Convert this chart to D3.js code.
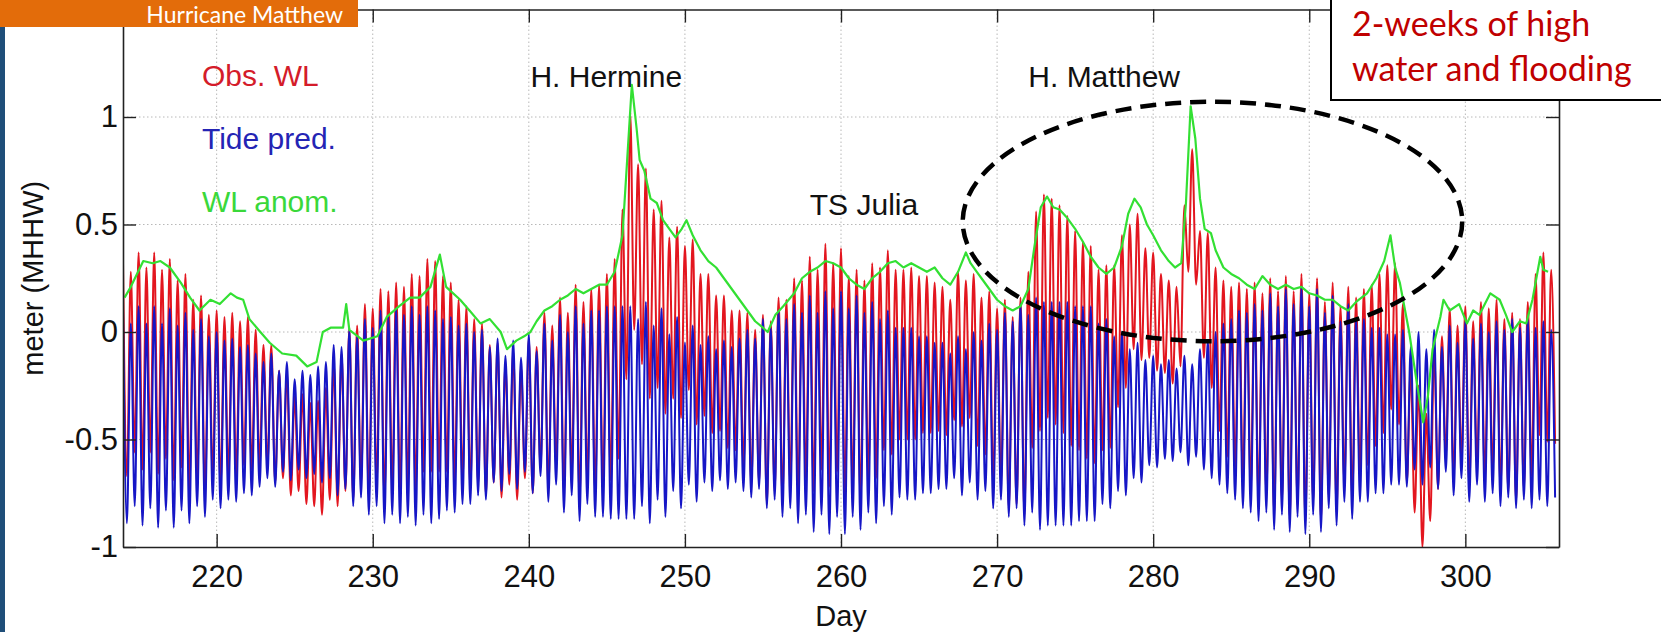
<!DOCTYPE html>
<html>
<head>
<meta charset="utf-8">
<script src="https://cdn.jsdelivr.net/npm/d3@7"></script>
<style>
html, body { margin: 0; padding: 0; background: #fff; }
svg { display: block; }
</style>
</head>
<body>
<div id="chart"></div>
<script>
// water level series, one value every 6 hours from day 214 (meter, MHHW)
const startDay = 214;
const stepDay = 0.25;

// tide prediction (blue), one row per day
const tidePred = [
  .12,-.89,.04,-.81,  .12,-.90,.04,-.82,  .12,-.91,.04,-.83,  .11,-.91,.03,-.83,   // 214-217
  .09,-.89,.01,-.81,  .06,-.86,-.02,-.78, 0,-.82,-.04,-.78,   -.03,-.79,-.07,-.75, // 218-221
  -.06,-.76,-.10,-.72, -.14,-.68,-.10,-.72, -.18,-.65,-.14,-.69, -.22,-.64,-.18,-.68, // 222-225
  -.20,-.66,-.16,-.70, -.14,-.68,-.06,-.76, -.07,-.73,.01,-.81, -.02,-.77,.06,-.85, // 226-229
  .02,-.81,.10,-.89,  .07,-.85,.11,-.89,  .08,-.86,.12,-.90,  .08,-.85,.12,-.89,   // 230-233
  .10,-.87,.06,-.83,  .07,-.84,.03,-.80,  .04,-.80,0,-.76,    .01,-.78,-.07,-.70,  // 234-237
  -.03,-.74,-.11,-.66, -.04,-.73,-.12,-.65, -.01,-.75,-.09,-.67, .04,-.79,-.04,-.71, // 238-241
  .08,-.84,0,-.76,    .12,-.88,.04,-.80,  .10,-.86,.10,-.86,  .12,-.87,.12,-.87,   // 242-245
  .12,-.87,.12,-.87,  .06,-.81,.14,-.89,  .03,-.78,.11,-.86,  -.01,-.74,.07,-.82,  // 246-249
  -.05,-.71,.03,-.79, -.06,-.70,-.02,-.74, -.08,-.69,-.04,-.73, -.07,-.70,-.03,-.74, // 250-253
  .01,-.77,-.03,-.73, .06,-.82,.02,-.78,  .10,-.86,.06,-.82,  .13,-.89,.09,-.85,   // 254-257
  .17,-.93,.09,-.85,  .19,-.94,.11,-.86,  .19,-.94,.11,-.86,  .17,-.92,.09,-.84,   // 258-261
  .14,-.89,.06,-.81,  .10,-.85,.02,-.77,  .02,-.78,.02,-.78,  -.02,-.75,-.02,-.75, // 262-265
  -.05,-.73,-.05,-.73, -.10,-.68,-.02,-.76, -.08,-.70,0,-.78, -.04,-.74,.04,-.82,  // 266-269
  .01,-.78,.09,-.86,  .05,-.82,.13,-.90,  .08,-.84,.16,-.92,  .14,-.90,.14,-.90,   // 270-273
  .14,-.90,.14,-.90,  .12,-.88,.12,-.88,  .12,-.88,.04,-.80,  .06,-.82,-.02,-.74,  // 274-277
  0,-.76,-.08,-.68,   -.05,-.70,-.13,-.62, -.11,-.63,-.15,-.59, -.13,-.60,-.17,-.56, // 278-281
  -.11,-.62,-.15,-.58, -.08,-.64,-.04,-.68, 0,-.71,.04,-.75,  .06,-.78,.10,-.82,   // 282-285
  .09,-.84,.13,-.88,  .10,-.84,.18,-.92,  .12,-.85,.20,-.93,  .13,-.86,.21,-.94,   // 286-289
  .12,-.85,.20,-.93,  .09,-.82,.17,-.90,  .05,-.79,.13,-.87,  .06,-.79,.06,-.79,   // 290-293
  .02,-.75,.02,-.75,  -.01,-.71,-.01,-.71, .01,-.72,-.07,-.64, 0,-.71,-.08,-.63,   // 294-297
  .01,-.73,-.07,-.65, .03,-.76,-.05,-.68, .05,-.79,-.03,-.71, .04,-.79,0,-.75,     // 298-301
  .05,-.81,.01,-.77,  .06,-.82,.02,-.78,  .06,-.82,.02,-.78,  .05,-.81,.01,-.77    // 302-305
];

// observed water level (red), same times
const obsWL = [
  .32,-.67,.28,-.56,  .37,-.64,.30,-.56,  .37,-.66,.29,-.59,  .34,-.69,.24,-.63,   // 214-217
  .27,-.73,.15,-.69,  .17,-.76,.08,-.68,  .10,-.72,.07,-.67,  .09,-.67,.05,-.62,   // 218-221
  .07,-.64,.01,-.62,  -.06,-.62,-.06,-.70, -.18,-.68,-.19,-.76, -.30,-.74,-.29,-.80, // 222-225
  -.33,-.81,-.32,-.85, -.26,-.78,-.14,-.81, -.10,-.74,.02,-.78, .03,-.71,.13,-.77, // 226-229
  .11,-.71,.20,-.78,  .19,-.73,.23,-.76,  .21,-.72,.27,-.74,  .26,-.65,.34,-.65,   // 230-233
  .33,-.65,.26,-.65,  .23,-.70,.15,-.70,  .12,-.73,.06,-.71,  .04,-.76,-.06,-.70,  // 234-237
  -.05,-.77,-.15,-.71, -.09,-.78,-.16,-.68, -.03,-.75,-.07,-.63, .09,-.73,.03,-.63, // 238-241
  .16,-.75,.09,-.66,  .22,-.78,.14,-.69,  .20,-.75,.22,-.73,  .27,-.69,.34,-.59,   // 242-245
  .57,-.22,1.02,.01,  .78,-.15,.76,-.31,  .57,-.26,.61,-.38,  .44,-.31,.49,-.40,   // 246-249
  .40,-.27,.43,-.43,  .27,-.39,.27,-.47,  .17,-.46,.17,-.54,  .10,-.55,.10,-.63,   // 250-253
  .09,-.71,.01,-.70,  .08,-.80,.05,-.74,  .16,-.78,.15,-.71,  .25,-.75,.24,-.68,   // 254-257
  .35,-.74,.29,-.64,  .41,-.72,.32,-.65,  .39,-.76,.26,-.73,  .29,-.79,.24,-.68,   // 258-261
  .32,-.68,.30,-.55,  .38,-.57,.29,-.50,  .29,-.50,.30,-.50,  .26,-.47,.26,-.47,   // 262-265
  .23,-.46,.21,-.48,  .15,-.41,.28,-.44,  .24,-.40,.27,-.53,  .16,-.57,.19,-.70,   // 266-269
  .11,-.70,.15,-.82,  .07,-.80,.16,-.85,  .28,-.54,.56,-.46,  .64,-.40,.62,-.43,   // 270-273
  .59,-.47,.54,-.53,  .47,-.55,.42,-.59,  .40,-.61,.29,-.55,  .31,-.54,.31,-.35,   // 274-277
  .45,-.26,.50,-.08,  .55,-.13,.39,-.12,  .37,-.18,.27,-.19,  .24,-.24,.21,-.16,   // 278-281
  .59,.28,.85,.22,    .47,-.12,.46,-.26,  .30,-.46,.24,-.58,  .21,-.64,.23,-.70,   // 282-285
  .20,-.74,.23,-.79,  .18,-.76,.25,-.85,  .19,-.79,.26,-.87,  .19,-.80,.27,-.88,   // 286-289
  .18,-.79,.25,-.88,  .14,-.77,.23,-.84,  .12,-.71,.21,-.78,  .16,-.67,.20,-.62,   // 290-293
  .22,-.53,.27,-.47,  .31,-.36,.32,-.43,  .13,-.70,-.17,-.84, -.25,-1.0,-.38,-.88, // 294-297
  -.09,-.73,-.02,-.58, .11,-.68,.03,-.60, .12,-.72,.05,-.62,  .14,-.69,.11,-.65,   // 298-301
  .15,-.73,.06,-.74,  .09,-.79,.06,-.73,  .14,-.67,.27,-.48,  .37,-.51,.29,-.52    // 302-305
];

// water level anomaly (green)
const anomDay = [
  214.1,214.5,215.3,215.9,216.4,217.0,217.7,218.3,218.9,219.6,220.2,220.9,221.3,221.7,222.1,222.8,
  223.4,224.2,225.1,225.8,226.4,226.8,227.3,228.1,228.3,228.5,229.4,230.3,230.9,231.7,232.4,233.0,
  233.7,234.3,234.7,235.6,236.2,236.9,237.5,238.2,238.6,239.2,239.7,240.1,240.5,241.0,241.5,242.0,
  242.5,243.0,243.5,244.0,244.5,245.0,245.5,246.0,246.3,246.6,246.9,247.1,247.4,247.8,248.2,248.6,
  249.0,249.4,249.8,250.1,250.5,251.0,251.5,252.0,252.5,253.0,253.5,254.0,254.5,255.0,255.3,255.8,
  256.3,257.0,257.5,258.0,258.5,259.0,259.5,260.0,260.5,261.0,261.5,262.0,262.5,263.0,263.5,264.0,
  264.5,265.0,265.5,266.0,266.5,267.0,267.5,268.0,268.3,268.7,269.0,269.5,270.0,270.5,271.0,271.5,
  272.0,272.4,272.8,273.2,273.6,274.0,274.5,275.0,275.5,276.0,276.5,277.0,277.5,278.0,278.4,278.8,
  279.2,279.6,280.0,280.5,281.0,281.4,281.8,282.1,282.4,282.7,283.0,283.3,283.7,284.0,284.5,285.0,
  285.5,286.0,286.5,287.0,287.5,288.0,288.5,289.0,289.5,290.0,290.5,291.0,291.5,292.0,292.5,293.0,
  293.7,294.3,294.8,295.2,295.5,295.8,296.4,296.9,297.3,297.6,297.9,298.4,298.6,299.0,299.6,300.1,
  300.5,300.9,301.6,302.2,302.6,303.0,303.5,303.9,304.3,304.8,305.0,305.3
];
const anomVal = [
  .16,.21,.33,.32,.33,.30,.23,.16,.10,.15,.13,.18,.16,.15,.06,.00,
  -.05,-.10,-.11,-.16,-.14,.00,.02,.02,.13,.01,-.04,-.02,.07,.12,.16,.16,
  .21,.36,.21,.15,.10,.04,.06,.00,-.08,-.04,-.02,.00,.05,.10,.12,.15,
  .17,.20,.18,.20,.22,.22,.28,.45,.80,1.15,.95,.80,.75,.62,.60,.52,
  .48,.44,.48,.52,.45,.38,.33,.30,.25,.20,.15,.10,.05,.02,.00,.08,
  .12,.18,.25,.28,.30,.33,.32,.30,.25,.22,.20,.25,.28,.32,.33,.30,
  .32,.30,.28,.30,.25,.22,.28,.37,.32,.28,.25,.20,.15,.12,.10,.12,
  .20,.40,.58,.63,.58,.57,.53,.48,.42,.35,.30,.27,.30,.40,.55,.62,
  .58,.50,.45,.38,.33,.30,.32,.60,1.05,.90,.62,.48,.46,.38,.30,.27,
  .25,.22,.20,.26,.22,.20,.22,.20,.21,.18,.17,.15,.15,.12,.10,.14,
  .18,.25,.33,.45,.30,.23,.00,-.24,-.42,-.30,-.08,.07,.15,.10,.13,.04,
  .10,.08,.18,.15,.08,.00,.05,.04,.15,.35,.29,.28
];

const xTicks = [220, 230, 240, 250, 260, 270, 280, 290, 300];
const yTicks = [-1, -0.5, 0, 0.5, 1];
const seriesNames = ["Obs. WL", "Tide pred.", "WL anom."];
const stormNames = ["H. Hermine", "TS Julia", "H. Matthew"];
const slideTitle = "Hurricane Matthew";
const noteLines = ["2-weeks of high", "water and flooding"];

const W = 1661, H = 632;
const red = "#e3161f", blue = "#1616c6", green = "#33e033";

const svg = d3.select("#chart").append("svg")
    .attr("width", W)
    .attr("height", H);

const x = d3.scaleLinear().domain([214, 306]).range([123, 1559]);
const y = d3.scaleLinear().domain([-1, 1.5]).range([547, 9.5]);

svg.append("defs").append("clipPath").attr("id", "plotclip")
  .append("rect")
    .attr("x", x(214)).attr("y", y(1.5))
    .attr("width", x(306) - x(214)).attr("height", y(-1) - y(1.5));

// dotted grid
const grid = svg.append("g");
grid.selectAll("line.gx")
  .data(xTicks)
  .enter().append("line")
    .attr("x1", d => x(d)).attr("x2", d => x(d))
    .attr("y1", y(1.5)).attr("y2", y(-1))
    .attr("stroke", "#b8b8b8").attr("stroke-dasharray", "1.5,2.5");
grid.selectAll("line.gy")
  .data(yTicks.filter(d => d > -1))
  .enter().append("line")
    .attr("x1", x(214)).attr("x2", x(306))
    .attr("y1", d => y(d)).attr("y2", d => y(d))
    .attr("stroke", "#b8b8b8").attr("stroke-dasharray", "1.5,2.5");

// series
const tideLine = d3.line()
    .x((d, i) => x(startDay + i * stepDay))
    .y(d => y(d))
    .curve(d3.curveMonotoneX);

const plot = svg.append("g").attr("clip-path", "url(#plotclip)");
plot.append("path").datum(obsWL)
    .attr("d", tideLine)
    .attr("fill", "none").attr("stroke", red).attr("stroke-width", 2);
plot.append("path").datum(tidePred)
    .attr("d", tideLine)
    .attr("fill", "none").attr("stroke", blue).attr("stroke-width", 2);

const anomLine = d3.line()
    .x(d => x(d[0]))
    .y(d => y(d[1]));
plot.append("path").datum(anomDay.map((d, i) => [d, anomVal[i]]))
    .attr("d", anomLine)
    .attr("fill", "none").attr("stroke", green).attr("stroke-width", 2.2)
    .attr("stroke-linejoin", "round");

// axes, ticks inward on all four sides
const font = "'Liberation Sans', Arial, sans-serif";
function styleAxis(g) {
  g.select(".domain").attr("stroke", "#222").attr("stroke-width", 1.6);
  g.selectAll(".tick line").attr("stroke", "#222").attr("stroke-width", 1.4);
  g.selectAll("text").attr("fill", "#111").style("font-family", font).style("font-size", "31px");
}
svg.append("g").attr("transform", `translate(0,${y(-1)})`)
    .call(d3.axisBottom(x).tickValues(xTicks).tickSizeInner(-13).tickSizeOuter(0).tickPadding(18))
    .call(styleAxis);
svg.append("g").attr("transform", `translate(0,${y(1.5)})`)
    .call(d3.axisTop(x).tickValues(xTicks).tickSizeInner(-13).tickSizeOuter(0).tickFormat(""))
    .call(styleAxis);
svg.append("g").attr("transform", `translate(${x(214)},0)`)
    .call(d3.axisLeft(y).tickValues(yTicks).tickSizeInner(-13).tickSizeOuter(0).tickPadding(5).tickFormat(d => String(d)))
    .call(styleAxis);
svg.append("g").attr("transform", `translate(${x(306)},0)`)
    .call(d3.axisRight(y).tickValues(yTicks).tickSizeInner(-13).tickSizeOuter(0).tickFormat(""))
    .call(styleAxis);

svg.append("text")
    .attr("x", (x(214) + x(306)) / 2).attr("y", 626)
    .attr("text-anchor", "middle")
    .style("font-family", font).style("font-size", "29px").attr("fill", "#111")
    .text("Day");
svg.append("text")
    .attr("transform", `translate(43,${(y(-1) + y(1.5)) / 2}) rotate(-90)`)
    .attr("text-anchor", "middle")
    .style("font-family", font).style("font-size", "29px").attr("fill", "#111")
    .text("meter (MHHW)");

// legend written as coloured text
const legendColors = ["#d41c2a", "#2424b4", "#3ad83a"];
const legendVals = [1.144, 0.85, 0.556];
svg.selectAll("text.legend")
  .data(seriesNames)
  .enter().append("text")
    .attr("x", x(219.06)).attr("y", (d, i) => y(legendVals[i]))
    .attr("fill", (d, i) => legendColors[i])
    .style("font-family", font).style("font-size", "30px")
    .text(d => d);

// storm labels
const stormPos = [[240.1, 1.139], [258.0, 0.542], [272.0, 1.139]];
svg.selectAll("text.storm")
  .data(stormNames)
  .enter().append("text")
    .attr("x", (d, i) => x(stormPos[i][0])).attr("y", (d, i) => y(stormPos[i][1]))
    .attr("fill", "#111")
    .style("font-family", font).style("font-size", "30px")
    .text(d => d);

// dashed ellipse around the Matthew period
svg.append("ellipse")
    .attr("cx", x(283.8)).attr("cy", y(0.514))
    .attr("rx", x(299.8) - x(283.8)).attr("ry", y(0) - y(0.557))
    .attr("fill", "none").attr("stroke", "#000")
    .attr("stroke-width", 4.5).attr("stroke-dasharray", "16,9");

// slide decorations
svg.append("rect").attr("x", 0).attr("y", 27).attr("width", 5).attr("height", H - 27).attr("fill", "#1f4e79");
svg.append("rect").attr("x", 0).attr("y", 0).attr("width", 358).attr("height", 27).attr("fill", "#e36c0a");
svg.append("text")
    .attr("x", 343).attr("y", 23)
    .attr("text-anchor", "end")
    .attr("fill", "#fff")
    .style("font-family", "Lato, 'Open Sans', sans-serif").style("font-size", "23px")
    .text(slideTitle);

svg.append("rect")
    .attr("x", 1331).attr("y", -4).attr("width", 340).attr("height", 104)
    .attr("fill", "#fff").attr("stroke", "#000").attr("stroke-width", 2);
svg.selectAll("text.note")
  .data(noteLines)
  .enter().append("text")
    .attr("x", 1352).attr("y", (d, i) => 36 + i * 45)
    .attr("fill", "#c00000")
    .style("font-family", "Lato, 'Open Sans', sans-serif").style("font-size", "34px")
    .text(d => d);
</script>
</body>
</html>
